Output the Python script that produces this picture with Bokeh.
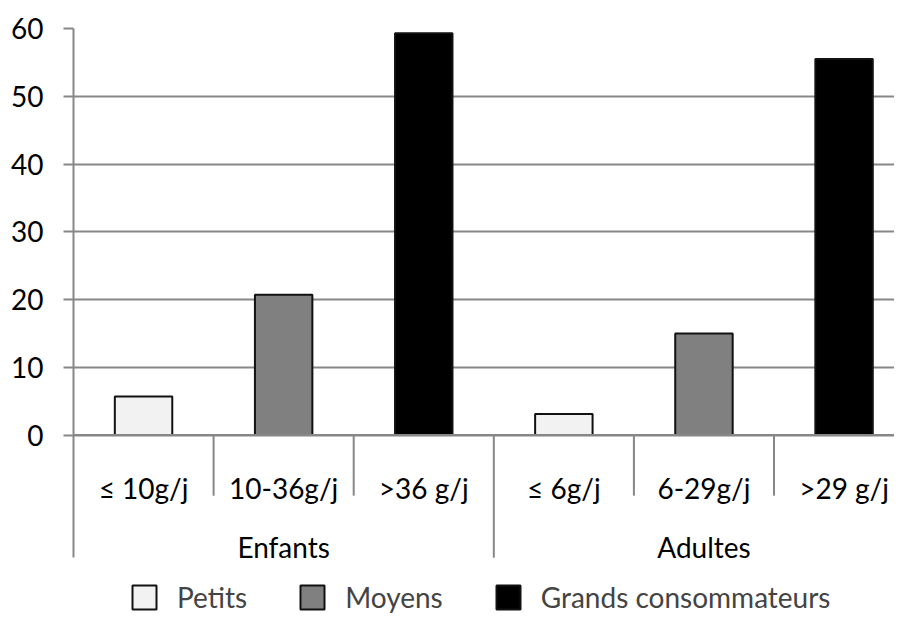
from bokeh.plotting import figure
from bokeh.models import Range1d, FixedTicker, Span, Legend, LegendItem, ColumnDataSource
from bokeh.core.properties import value
from bokeh.embed import file_html
from bokeh.resources import INLINE

# ---- data ----
groups = ["Enfants", "Adultes"]
subcats = ["≤ 10g/j", "10-36g/j", ">36 g/j", "≤ 6g/j", "6-29g/j", ">29 g/j"]
cat_group = ["Enfants", "Enfants", "Enfants", "Adultes", "Adultes", "Adultes"]
series = ["Petits", "Moyens", "Grands consommateurs"]
cat_series = ["Petits", "Moyens", "Grands consommateurs",
              "Petits", "Moyens", "Grands consommateurs"]
values = [5.7, 20.7, 59.3, 3.1, 15.0, 55.5]
y_ticks = [0, 10, 20, 30, 40, 50, 60]

# ---- styles ----
colors = {"Petits": "#f2f2f2", "Moyens": "#808080", "Grands consommateurs": "#000000"}
GRID = "#878787"
FONT = "Lato"
FS = "28px"
SHORT_SEP = -8.95
LONG_SEP = -18.1
SUB_Y = -7.82
GROUP_Y = -16.6

p = figure(width=894, height=615, output_backend="svg", toolbar_location=None,
           x_axis_type=None, x_range=Range1d(0, 5.86), y_range=Range1d(-26.64, 60))
p.min_border_left = 73
p.min_border_right = 0
p.min_border_top = 28
p.min_border_bottom = 0
p.outline_line_color = None
p.background_fill_color = "white"

# y axis
tk = FixedTicker(ticks=y_ticks)
ax = p.yaxis[0]
ax.ticker = tk
ax.bounds = (LONG_SEP, 60)
ax.axis_line_color = GRID
ax.axis_line_width = 2
ax.major_tick_line_color = GRID
ax.major_tick_line_width = 2
ax.major_tick_out = 10
ax.major_tick_in = 0
ax.minor_tick_line_color = None
ax.major_label_text_font = FONT
ax.major_label_text_font_size = FS
ax.major_label_text_color = "black"
ax.major_label_standoff = 20
p.ygrid[0].ticker = tk
p.ygrid[0].grid_line_color = GRID
p.ygrid[0].grid_line_width = 2

# bars
xs = [i + 0.5 for i in range(len(subcats))]
renderers = {}
for s in series:
    idx = [i for i, c in enumerate(cat_series) if c == s]
    src = ColumnDataSource(dict(x=[xs[i] for i in idx], top=[values[i] for i in idx]))
    renderers[s] = p.vbar(x="x", top="top", bottom=0, width=0.41, source=src,
                          fill_color=colors[s], line_color="#111111", line_width=2)

# axis line at 0 on top of bars
p.add_layout(Span(location=0, dimension="width", line_color=GRID, line_width=2))

# category separators
sx, sy = [], []
for i in range(1, len(subcats)):
    sx.append(i)
    sy.append(LONG_SEP if cat_group[i] != cat_group[i - 1] else SHORT_SEP)
p.segment(x0=sx, y0=[0] * len(sx), x1=sx, y1=sy, line_color=GRID, line_width=2)

# category labels
p.text(x=xs, y=[SUB_Y] * len(xs), text=subcats, text_font=value(FONT),
       text_font_size=FS, text_align="center", text_baseline="alphabetic",
       text_color="black")
gx = []
for g in groups:
    members = [xs[i] for i, c in enumerate(cat_group) if c == g]
    gx.append(sum(members) / len(members))
p.text(x=gx, y=[GROUP_Y] * len(gx), text=groups, text_font=value(FONT),
       text_font_size=FS, text_align="center", text_baseline="alphabetic",
       text_color="black")

legend = Legend(items=[LegendItem(label=s, renderers=[renderers[s]]) for s in series],
                orientation="horizontal", location=(56, 1),
                glyph_width=30, glyph_height=30, label_standoff=18, spacing=50,
                padding=0, margin=0, border_line_color=None, background_fill_alpha=0,
                label_text_font=FONT, label_text_font_size=FS)
p.add_layout(legend)

open("out.html", "w").write(file_html(p, INLINE))
